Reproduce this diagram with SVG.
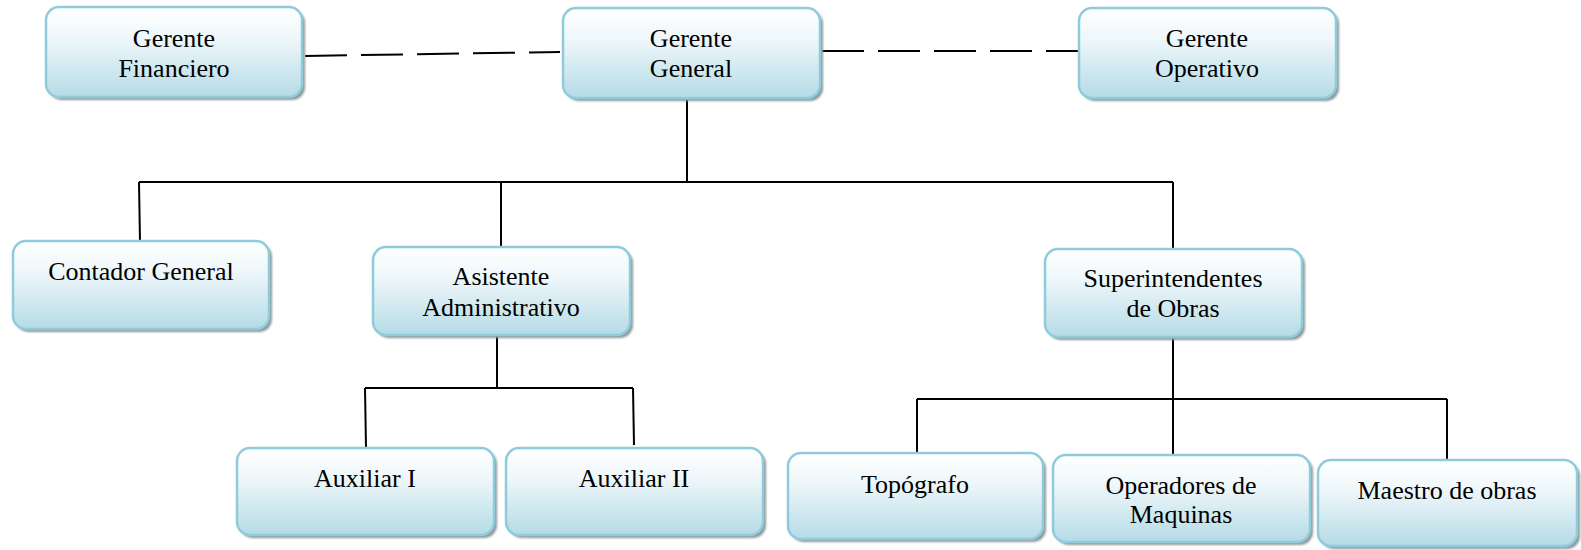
<svg xmlns="http://www.w3.org/2000/svg" width="1581" height="550" viewBox="0 0 1581 550">
  <defs>
    <linearGradient id="boxFill" x1="0" y1="0" x2="0" y2="1">
      <stop offset="0" stop-color="#ffffff"/>
      <stop offset="0.35" stop-color="#eef7fa"/>
      <stop offset="1" stop-color="#b5dbe6"/>
    </linearGradient>
    <filter id="soft" x="-5%" y="-5%" width="115%" height="120%">
      <feGaussianBlur stdDeviation="1"/>
    </filter>
  </defs>
  <style>
    .shadow { fill: #8f979a; filter: url(#soft); }
    .box { fill: url(#boxFill); stroke: #8ecbdb; stroke-width: 2.5; }
    .lbl { font-family: "Liberation Serif", "Times New Roman", serif; font-size: 26px; fill: #000; text-anchor: middle; }
    .link { stroke: #000; stroke-width: 2; fill: none; }
    .dash { stroke: #000; stroke-width: 2; fill: none; stroke-dasharray: 42 14; }
  </style>

  <rect width="1581" height="550" fill="#ffffff"/>

  <!-- connectors -->
  <g id="connectors">
    <path class="dash" d="M305 56 L560 52"/>
    <path class="dash" d="M822 51 L1079 51"/>
    <path class="link" d="M687 100 V182 M139 182 H1173 M139 182 L140 242 M501 182 V247 M1173 182 V249"/>
    <path class="link" d="M497 335 V388 M365 388 H633 M365 388 L366 448 M633 388 L634 445"/>
    <path class="link" d="M1173 337 V399 M917 399 H1447 M917 399 V453 M1173 399 V455 M1447 399 V460"/>
  </g>

  <g id="gerente-financiero">
    <rect class="shadow" x="49" y="10" width="256" height="90" rx="13"/>
    <rect class="box" x="46" y="7" width="256" height="90" rx="13"/>
    <text class="lbl" x="174" y="47">Gerente</text>
    <text class="lbl" x="174" y="77">Financiero</text>
  </g>

  <g id="gerente-general">
    <rect class="shadow" x="566" y="11" width="257" height="90" rx="13"/>
    <rect class="box" x="563" y="8" width="257" height="90" rx="13"/>
    <text class="lbl" x="691" y="47">Gerente</text>
    <text class="lbl" x="691" y="77">General</text>
  </g>

  <g id="gerente-operativo">
    <rect class="shadow" x="1082" y="11" width="257" height="90" rx="13"/>
    <rect class="box" x="1079" y="8" width="257" height="90" rx="13"/>
    <text class="lbl" x="1207" y="47">Gerente</text>
    <text class="lbl" x="1207" y="77">Operativo</text>
  </g>

  <g id="contador-general">
    <rect class="shadow" x="16" y="244" width="256" height="88" rx="13"/>
    <rect class="box" x="13" y="241" width="256" height="88" rx="13"/>
    <text class="lbl" x="141" y="280">Contador General</text>
  </g>

  <g id="asistente-administrativo">
    <rect class="shadow" x="376" y="250" width="257" height="88" rx="13"/>
    <rect class="box" x="373" y="247" width="257" height="88" rx="13"/>
    <text class="lbl" x="501" y="285">Asistente</text>
    <text class="lbl" x="501" y="316">Administrativo</text>
  </g>

  <g id="superintendentes">
    <rect class="shadow" x="1048" y="252" width="257" height="88" rx="13"/>
    <rect class="box" x="1045" y="249" width="257" height="88" rx="13"/>
    <text class="lbl" x="1173" y="287">Superintendentes</text>
    <text class="lbl" x="1173" y="317">de Obras</text>
  </g>

  <g id="auxiliar-1">
    <rect class="shadow" x="240" y="451" width="257" height="87" rx="13"/>
    <rect class="box" x="237" y="448" width="257" height="87" rx="13"/>
    <text class="lbl" x="365" y="487">Auxiliar I</text>
  </g>

  <g id="auxiliar-2">
    <rect class="shadow" x="509" y="451" width="257" height="87" rx="13"/>
    <rect class="box" x="506" y="448" width="257" height="87" rx="13"/>
    <text class="lbl" x="634" y="487">Auxiliar II</text>
  </g>

  <g id="topografo">
    <rect class="shadow" x="791" y="456" width="255" height="86" rx="13"/>
    <rect class="box" x="788" y="453" width="255" height="86" rx="13"/>
    <text class="lbl" x="915" y="493">Topógrafo</text>
  </g>

  <g id="operadores">
    <rect class="shadow" x="1056" y="458" width="257" height="87" rx="13"/>
    <rect class="box" x="1053" y="455" width="257" height="87" rx="13"/>
    <text class="lbl" x="1181" y="494">Operadores de</text>
    <text class="lbl" x="1181" y="523">Maquinas</text>
  </g>

  <g id="maestro-de-obras">
    <rect class="shadow" x="1321" y="463" width="259" height="86" rx="13"/>
    <rect class="box" x="1318" y="460" width="259" height="86" rx="13"/>
    <text class="lbl" x="1447" y="499">Maestro de obras</text>
  </g>
</svg>
